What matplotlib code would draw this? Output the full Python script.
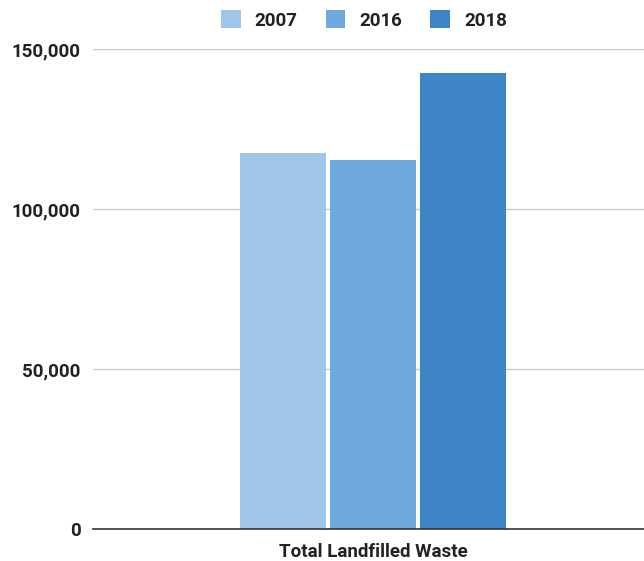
import matplotlib
matplotlib.use('Agg')
import matplotlib.pyplot as plt
from matplotlib.ticker import FuncFormatter

categories = ['Total Landfilled Waste']
years = ['2007', '2016', '2018']
values = [117600, 115300, 142400]
colors = ['#9fc5e8', '#6fa8dc', '#3d85c6']

plt.rcParams['font.family'] = ['Roboto', 'DejaVu Sans']

fig = plt.figure(figsize=(6.44, 5.61), dpi=100)
ax = fig.add_axes([93/644, 1 - 529/561, 1 - 93/644, 480/561])

width = 0.3
step = 0.314
for i, (yr, v, c) in enumerate(zip(years, values, colors)):
    ax.bar(0 + (i - 1) * step, v, width, color=c, label=yr, zorder=3)

ax.set_xlim(-0.977, 0.945)
ax.set_ylim(0, 150000)
ax.set_yticks([0, 50000, 100000, 150000])
ax.yaxis.set_major_formatter(FuncFormatter(lambda v, p: f'{int(v):,}'))
ax.set_xticks([0])
ax.set_xticklabels(categories)
ax.tick_params(axis='y', length=0, pad=9, labelsize=13.5, labelcolor='#222222')
ax.tick_params(axis='x', length=0, pad=10, labelsize=13.5, labelcolor='#222222')
for lab in ax.get_yticklabels() + ax.get_xticklabels():
    lab.set_fontweight('bold')

ax.grid(axis='y', color='#cccccc', linewidth=1, zorder=0)
for s in ['top', 'right', 'left']:
    ax.spines[s].set_visible(False)
ax.spines['bottom'].set_color('#333333')
ax.spines['bottom'].set_linewidth(1.2)
ax.spines['bottom'].set_zorder(4)

leg = fig.legend(loc='center', bbox_to_anchor=(0.565, 1 - 20/561), ncol=3,
                 frameon=False, handlelength=1.05, handleheight=1.05,
                 handletextpad=0.75, columnspacing=1.5,
                 prop={'weight': 'bold', 'size': 13.5})
for t in leg.get_texts():
    t.set_color('#222222')

fig.savefig('out.png', dpi=100)
